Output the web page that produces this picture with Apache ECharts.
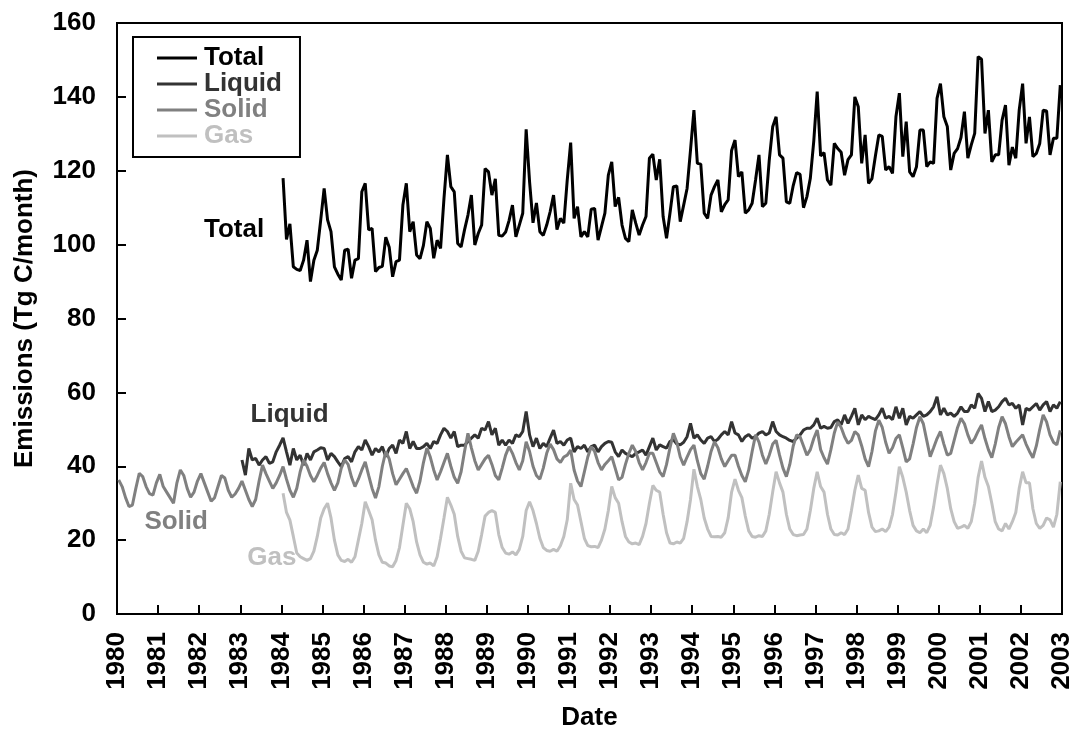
<!DOCTYPE html>
<html>
<head>
<meta charset="utf-8">
<script src="https://cdn.jsdelivr.net/npm/echarts@6/dist/echarts.min.js"></script>
<style>
html,body{margin:0;padding:0;background:#fff;}
#chart{width:1073px;height:730px;}
</style>
</head>
<body>
<div id="chart"></div>
<script>
// Monthly carbon emissions (Tg C/month)
const solidStart = [1980, 1];
const solidValues = [
 36.3,34.5,31.5,29.1,29.5,34,38.1,37.2,34.5,32.6,32.2,35.5,
 37.8,34.5,33,31.5,30,35.5,39,37.5,34,31.6,33,36,
 38,35.5,33,30.5,31.5,34.5,37.5,36.8,33.5,31.6,32.5,34,
 36,33.5,31,29.1,31,36,40.3,38,36,34,35.5,37.5,
 39.9,36.5,33.5,31.6,34,38.5,41.7,40,37.5,35.8,37.5,39.5,
 41,38,35.5,33.5,35.5,39.5,41.7,40.5,37,34.5,36.5,39,
 41.2,37.5,34,31.4,34.5,40,44,42,38,35,36.5,38,
 39.4,37,34.5,32.7,36,41,44.9,42.5,39,36.3,38.5,41,
 43.5,40,37,35.4,38.5,44,48.9,45,41.5,39,40.5,42,
 43,40.5,37.5,36.3,39.5,43,45.3,43.5,41,39,41.5,46.6,
 44,40,37.5,36.5,39.5,43.5,46,44.5,42,41,42.5,43,
 44.4,39,36,34.5,38.5,42.5,45.3,44,41,39,40.5,41.5,
 42.6,39.5,36.3,37,40.5,43.5,45.7,44,41,39,41,43.5,
 43.5,41,38.5,37.2,40.5,45,48.9,46.5,42.5,40.3,42.5,44.5,
 45.7,41.5,38,36.5,40,44,46.6,45,42,39.9,41.5,43,
 43,40,37.5,35.8,39,44,48.5,46.5,43,40.6,43,46,
 47,43,39.5,37.2,40.5,45.5,48.5,48,45.5,43,44.5,47.5,
 49.8,44.5,42.3,40.6,44.5,49,52,50.5,48,46.2,47,49.4,
 48.5,45.5,42,39.9,44,49.5,52.5,50.5,46.5,43.5,45,47.5,
 48.5,45,41.2,42,46,50.5,53.4,51.5,47,42.6,45,47.5,
 49.4,46,43,43.5,47,50.5,53,51.5,48.5,46.2,47.5,49.5,
 51.2,47.5,44.5,42.3,46,50.5,53.4,51.5,48,45.3,46.5,47.5,
 48.5,46,44,42.3,45.5,50,53.9,52,48.5,46.5,45.8,49.7
];
const liquidStart = [1983, 1];
const liquidValues = [
 41.7,37.6,44.8,41.7,42.1,40.3,41.7,42.6,40.8,41.2,43.9,45.7,
 47.7,43.9,40.3,44.8,41.7,43.0,40.3,43.5,41.7,43.9,44.4,45.0,
 44.8,41.7,43.5,42.6,41.2,39.9,42.1,42.6,41.2,43.9,45.3,44.4,
 47.1,45.3,43.0,44.8,43.9,45.3,42.6,44.8,45.7,43.5,47.1,46.2,
 49.4,44.8,46.7,44.8,44.8,45.3,46.2,44.8,46.7,46.2,48.5,50.3,
 49.4,47.6,49.4,45.3,45.7,45.7,46.7,47.6,48.5,47.6,50.3,49.8,
 52.1,48.5,50.3,45.7,47.1,45.7,47.1,46.2,48.5,48.0,49.4,54.8,
 48.5,45.3,47.6,44.8,46.2,45.3,47.6,49.8,46.2,46.7,45.7,47.1,
 47.6,43.9,45.3,44.8,45.7,43.9,45.3,45.7,43.9,45.3,46.2,46.7,
 46.5,43.9,42.6,44.4,43.5,43.0,42.6,43.5,43.9,44.4,43.0,45.3,
 47.6,44.4,45.8,45.3,44.9,46.7,47.2,46.0,45.8,46.5,48.0,51.6,
 47.6,48.5,47.1,46.2,47.6,48.0,46.7,47.3,48.5,49.4,48.5,52.1,
 49.0,48.5,46.7,48.0,48.6,47.6,48.0,49.0,49.4,48.5,49.0,52.1,
 49.4,48.5,48.0,47.6,47.0,46.7,47.6,48.5,49.8,50.3,50.3,51.2,
 53.0,50.3,50.8,50.3,50.5,52.1,52.6,51.2,53.9,51.6,53.5,55.7,
 51.2,53.9,52.6,53.5,53.0,52.6,53.9,55.7,53.0,53.5,52.6,56.1,
 53.0,55.7,51.2,53.5,53.0,53.9,54.8,53.5,53.9,54.8,56.1,58.8,
 53.9,55.7,53.9,54.4,53.5,54.4,56.1,54.8,54.8,56.6,55.7,59.7,
 58.4,54.8,57.5,54.8,55.2,56.1,57.5,58.4,56.6,57.0,55.7,56.6,
 51.2,55.7,55.2,56.1,57.0,55.2,56.6,57.5,54.8,56.6,55.7,57.5
];
const gasStart = [1984, 1];
const gasValues = [
 32.7,27.5,25.4,21,16.5,15.5,15,14.5,15,17,21,26,
 28.5,30,26,20,16,14.5,14.2,14.8,14,15.5,20,24.5,
 30.4,28,25.5,20,16,14,13.8,13,12.8,14.5,18,24,
 30,28.5,25,19.5,16,14,13.5,13.8,13,15.5,20.5,26,
 31.6,29.5,27,21,17,15.2,15,14.8,14.5,17,21.5,26.5,
 27.5,28,27.5,21.5,18,16.5,16.2,16.8,16,17.5,21,28,
 30.4,28,24.5,20.5,18,17.2,17,17.5,17,18.5,21,25.5,
 35.4,31,29.5,25,20.5,18.5,18.2,18.3,18,20,23,28,
 34.5,31.5,30,25,21,19.5,19,19.2,18.8,21,24.5,30,
 34.8,33.5,33,27,22,19.2,19,19.5,19.2,20.5,25,31,
 39.2,34.5,31,26,23,21,20.9,21,20.8,22,26,33,
 36.5,33.5,31.5,26.5,22.5,21,20.8,21.2,21,22.5,27,33,
 38.5,35.5,33,27,23,21.5,21.2,21.4,21.5,23,28,34,
 38.5,34.5,33,27,23,21.5,21.4,22,21.5,23,28,33.5,
 37.6,34,33.5,27.5,23.5,22.3,22.5,23,22.3,23.5,27,33,
 39.9,37,33,28,24,22.5,22,23,22,24,29,35,
 40.3,38,34,28.5,25,23.2,23.5,24,23.2,25,30,37,
 41.4,37,34.5,30,25,23,22.5,24.5,23,25,27.5,34,
 38.5,35.5,35.5,28.5,24.5,23.2,24,26,25.5,23.5,27,35.8
];
const totalStart = [1984, 1];
const totalValues = [
 118,101.4,105.6,94,93.3,93,95.8,101.2,90,95.8,98.5,106.7,
 115.2,106.7,103.5,94,92,90.4,98.5,98.8,90.9,95.8,96.2,114.3,
 116.6,104,104.4,92.7,93.8,94.1,102,99.3,91.3,95.4,95.8,110.7,
 116.6,103.5,106.2,97.2,96.2,99.8,106.2,104.4,96.3,101.2,99,112.5,
 124.3,115.7,114.3,100.3,99.4,104,108,113.4,99.9,103,105.3,120.6,
 119.7,113.4,117.8,102.5,102.3,103.4,106.5,110.7,102.1,105.3,108.5,131.2,
 117,105.9,111.3,103.5,102.5,105.3,108.9,113.4,104.1,107.1,105.8,117.5,
 127.6,107.1,110.3,102.1,103.5,102.1,109.6,109.8,101.2,104.9,108.5,118.8,
 122.4,110.3,112.8,105.3,101.7,100.8,109.4,105.8,102.6,105.3,107.6,123.4,
 124.5,117.5,123.1,107.6,101.7,108.5,115.7,115.9,106.2,110.7,115.2,125.6,
 136.4,122,121.8,108.5,107.1,113.4,115.7,117.5,108.9,110.8,112.1,125.5,
 128.3,118.4,119.7,108.5,109.4,111.2,117.5,124.3,110.3,111.2,122.9,131.9,
 134.6,124.3,123.4,111.6,111.2,116,119.5,119,110,113,118,128,
 141.4,124,124.9,117.5,116.1,127.4,126,125,118.8,123,124.3,140,
 137.3,122,129.7,116.6,117.9,124,129.7,129.3,120.2,121.1,119.3,134.6,
 141,123.8,133.3,119.7,118.4,121.1,131,131,121.1,122.4,122,139.6,
 143.6,134.6,132,120.2,124.7,126,129,136,123.4,127,130.1,150.9,
 150.2,130.1,136.4,122.4,124.3,124.3,133.7,137.8,121.5,126.4,123.4,136.4,
 143.6,127.4,134.6,123.8,124.7,127.4,136.4,136.2,124.3,128.8,128.8,143.2
];
const seriesNames = ['Total', 'Liquid', 'Solid', 'Gas'];
const seriesColors = ['#000000', '#333333', '#808080', '#c0c0c0'];
const labelText = { Total: [1982.85, 104.0], Liquid: [1984.2, 54.0], Solid: [1981.44, 25.0], Gas: [1983.77, 15.1] };

function toPoints(start, values) {
  // plot each monthly value at the middle of its month
  return values.map((v, i) => {
    const m = (start[1] - 1) + i;
    return [start[0] + (m + 0.5) / 12, v];
  });
}

const FONT = "'Liberation Sans', Arial, Helvetica, sans-serif";
const FS = 26;
const sources = { Total: [totalStart, totalValues], Liquid: [liquidStart, liquidValues], Solid: [solidStart, solidValues], Gas: [gasStart, gasValues] };

const chart = echarts.init(document.getElementById('chart'), null, { renderer: 'canvas' });
const series = seriesNames.map((name, i) => ({
  name: name,
  type: 'line',
  data: toPoints(sources[name][0], sources[name][1]),
  symbol: 'none',
  showSymbol: false,
  animation: false,
  lineStyle: { color: seriesColors[i], width: 3 },
  itemStyle: { color: seriesColors[i] },
  markPoint: {
    symbol: 'circle', symbolSize: 0, silent: true,
    data: [{ coord: labelText[name], value: name }],
    label: { show: true, position: 'inside', formatter: name, color: seriesColors[i], fontFamily: FONT, fontWeight: 'bold', fontSize: FS }
  }
}));

chart.setOption({
  backgroundColor: '#ffffff',
  animation: false,
  grid: { left: 117, right: 11, top: 23, bottom: 116, show: true, borderColor: '#000', borderWidth: 2, containLabel: false, outerBoundsMode: 'none' },
  legend: {
    left: 133, top: 37,
    orient: 'vertical',
    icon: 'rect',
    itemWidth: 40, itemHeight: 3,
    itemGap: 0,
    padding: [8, 18, 8, 24],
    borderColor: '#000', borderWidth: 2,
    backgroundColor: '#fff',
    textStyle: { fontFamily: FONT, fontWeight: 'bold', fontSize: FS, lineHeight: 26, padding: [0, 0, 0, 2] },
    data: seriesNames.map((n, i) => ({ name: n, textStyle: { color: seriesColors[i] } }))
  },
  xAxis: {
    type: 'value', min: 1980, max: 2003, interval: 1,
    name: 'Date', nameLocation: 'middle', nameGap: 91,
    nameTextStyle: { fontFamily: FONT, fontWeight: 'bold', fontSize: FS, color: '#000' },
    axisLine: { show: true, onZero: false, lineStyle: { color: '#000', width: 2 } },
    axisTick: { show: true, inside: true, length: 9, lineStyle: { color: '#000', width: 2 } },
    axisLabel: { rotate: 90, margin: 18, fontFamily: FONT, fontWeight: 'bold', fontSize: FS, color: '#000', formatter: v => String(Math.round(v)) },
    splitLine: { show: false }
  },
  yAxis: {
    type: 'value', min: 0, max: 160, interval: 20,
    name: 'Emissions (Tg C/month)', nameLocation: 'middle', nameGap: 79, nameRotate: 90,
    nameTextStyle: { fontFamily: FONT, fontWeight: 'bold', fontSize: FS, color: '#000' },
    axisLine: { show: true, lineStyle: { color: '#000', width: 2 } },
    axisTick: { show: true, inside: true, length: 9, lineStyle: { color: '#000', width: 2 } },
    axisLabel: { margin: 21, fontFamily: FONT, fontWeight: 'bold', fontSize: FS, color: '#000' },
    splitLine: { show: false }
  },
  series: series
});
</script>
</body>
</html>
